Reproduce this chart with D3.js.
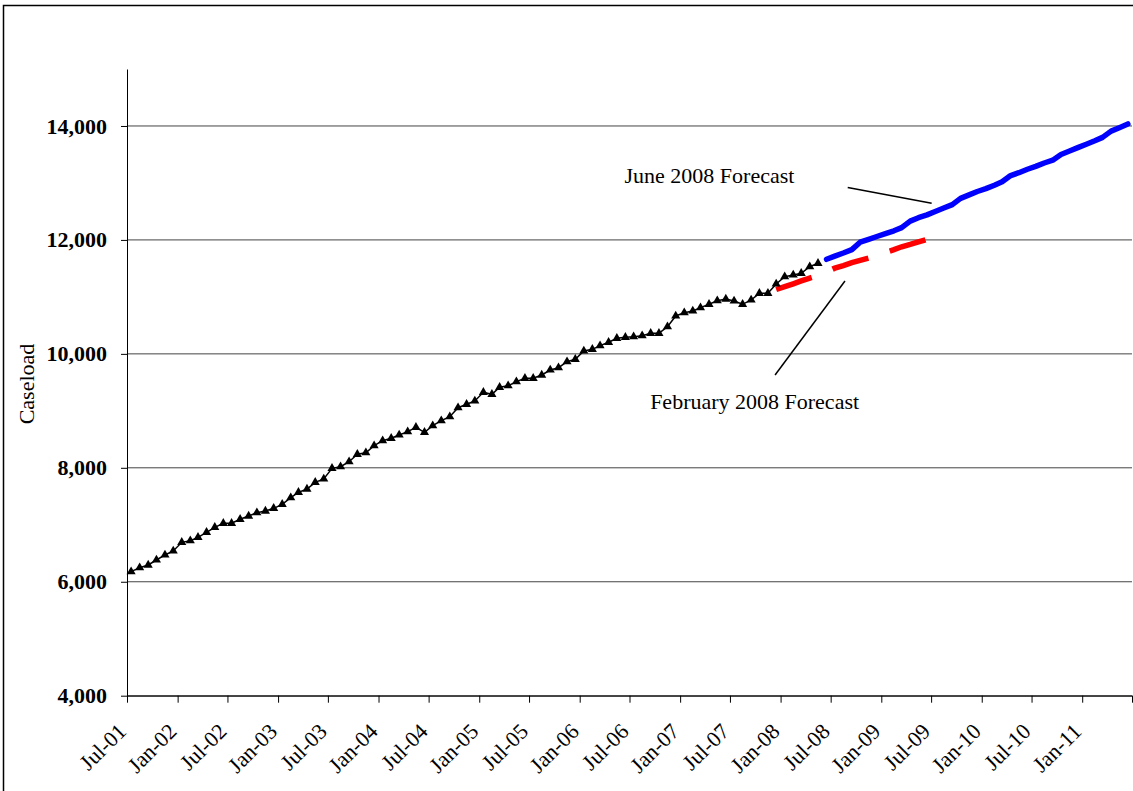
<!DOCTYPE html>
<html>
<head>
<meta charset="utf-8">
<script src="https://cdn.jsdelivr.net/npm/d3@7"></script>
<style>
  body { margin: 0; background: #fff; }
  text { font-family: "Liberation Serif", "Times New Roman", serif; fill: #000; }
</style>
</head>
<body>
<svg width="1133" height="791"></svg>
<script>
let width = 1133;
let height = 791;

// monthly caseload, actuals then the two forecasts
let actualStart = '2001-07';
let actualValues = [
  6177, 6247, 6294, 6382, 6470, 6540, 6692, 6721, 6780, 6868,
  6956, 7026, 7026, 7096, 7154, 7212, 7242, 7289, 7359, 7475,
  7570, 7628, 7745, 7804, 7991, 8020, 8107, 8237, 8265, 8388,
  8476, 8518, 8576, 8634, 8711, 8623, 8739, 8827, 8897, 9055,
  9115, 9173, 9325, 9290, 9413, 9441, 9512, 9571, 9571, 9629,
  9717, 9757, 9863, 9905, 10051, 10080, 10144, 10203, 10273, 10291,
  10302, 10319, 10361, 10361, 10477, 10665, 10723, 10753, 10811, 10870,
  10934, 10963, 10928, 10870, 10946, 11063, 11063, 11227, 11355, 11385,
  11414, 11530, 11590
];

let febStart = '2007-12';
let febValues = [
  11130, 11180, 11230, 11280, 11330, 11375, 11440, 11505, 11550, 11600,
  11640, 11680, 11730, 11780, 11830, 11880, 11920, 11965, 12010
];

let juneStart = '2008-06';
let juneValues = [
  11660, 11715, 11770, 11830, 11960, 12010, 12060, 12110, 12160, 12215,
  12330, 12390, 12440, 12500, 12560, 12620, 12730, 12790, 12850, 12900,
  12960, 13020, 13130, 13180, 13240, 13290, 13350, 13400, 13500, 13560,
  13620, 13680, 13740, 13800, 13910, 13970, 14035
];

let yTicks = [4000, 6000, 8000, 10000, 12000, 14000];
let xTickLabels = ['Jul-01', 'Jan-02', 'Jul-02', 'Jan-03', 'Jul-03', 'Jan-04', 'Jul-04',
  'Jan-05', 'Jul-05', 'Jan-06', 'Jul-06', 'Jan-07', 'Jul-07', 'Jan-08', 'Jul-08',
  'Jan-09', 'Jul-09', 'Jan-10', 'Jul-10', 'Jan-11'];

let parseMonth = d3.timeParse('%Y-%m');
let parseDay = d3.timeParse('%Y-%m-%d');
let parseTick = d3.timeParse('%b-%y');

// points sit in the middle of their month
function series(start, values) {
  let s = parseMonth(start);
  return values.map((v, i) => ({
    date: d3.timeDay.offset(d3.timeMonth.offset(s, i), 15),
    value: v
  }));
}

let actual = series(actualStart, actualValues);
let feb = series(febStart, febValues);
let june = series(juneStart, juneValues);

let x = d3.scaleTime()
  .domain([parseMonth('2001-07'), parseMonth('2011-07')])
  .range([127, 1132]);

let y = d3.scaleLinear()
  .domain([4000, 15000])
  .range([695.7, 69]);

let svg = d3.select('svg');

svg.append('rect')
  .attr('x', 3.5)
  .attr('y', 5.5)
  .attr('width', 1140)
  .attr('height', 800)
  .attr('fill', 'none')
  .attr('stroke', '#000')
  .attr('stroke-width', 1.5)
  ;

// gridlines
svg.append('g')
  .selectAll('line')
  .data(yTicks)
  .enter()
    .append('line')
    .attr('x1', x.range()[0])
    .attr('x2', x.range()[1])
    .attr('y1', d => y(d))
    .attr('y2', d => y(d))
    .attr('stroke', '#444')
    .attr('stroke-width', 1)
  ;

// y axis
let yAxis = svg.append('g')
  .attr('transform', `translate(${x.range()[0]},0)`)
  .call(d3.axisLeft(y)
    .tickValues(yTicks)
    .tickFormat(d3.format(','))
    .tickSize(6)
    .tickSizeOuter(0)
    .tickPadding(14))
  ;
yAxis.selectAll('text')
  .attr('font-size', 22)
  .attr('font-weight', 'bold')
  .attr('font-family', '"Liberation Serif", serif')
  ;
yAxis.selectAll('path, line').attr('stroke', '#000');

// x axis, last tick (Jul-11) has no label
let xTickDates = xTickLabels.map(parseTick).concat([parseMonth('2011-07')]);
let xAxis = svg.append('g')
  .attr('transform', `translate(0,${y.range()[0]})`)
  .call(d3.axisBottom(x)
    .tickValues(xTickDates)
    .tickFormat((d, i) => xTickLabels[i] || '')
    .tickSize(7)
    .tickSizeOuter(0))
  ;
xAxis.selectAll('text')
  .attr('font-size', 22)
  .attr('font-family', '"Liberation Serif", serif')
  .attr('text-anchor', 'end')
  .attr('x', 0)
  .attr('y', 0)
  .attr('dy', null)
  .attr('transform', 'translate(0,37) rotate(-45)')
  ;
xAxis.selectAll('path, line').attr('stroke', '#000');

let line = d3.line()
  .x(d => x(d.date))
  .y(d => y(d.value))
  ;

// February 2008 forecast
svg.append('path')
  .datum(feb)
  .attr('d', line)
  .attr('fill', 'none')
  .attr('stroke', '#ff0000')
  .attr('stroke-width', 5.5)
  .attr('stroke-dasharray', '37.5,22.5')
  ;

// June 2008 forecast
svg.append('path')
  .datum(june)
  .attr('d', line)
  .attr('fill', 'none')
  .attr('stroke', '#0000ff')
  .attr('stroke-width', 5.5)
  .attr('stroke-linejoin', 'round')
  .attr('stroke-linecap', 'round')
  ;

// actuals
svg.append('path')
  .datum(actual)
  .attr('d', line)
  .attr('fill', 'none')
  .attr('stroke', '#000')
  .attr('stroke-width', 1.5)
  ;

svg.append('g')
  .selectAll('path')
  .data(actual)
  .enter()
    .append('path')
    .attr('d', d3.symbol(d3.symbolTriangle, 36))
    .attr('transform', d => `translate(${x(d.date)},${y(d.value)})`)
    .attr('fill', '#000')
  ;

// callouts
let notes = [
  {text: 'June 2008 Forecast', at: ['2006-06-13', 12993], from: ['2008-09-01', 12921], to: ['2009-07-03', 12643]},
  {text: 'February 2008 Forecast', at: ['2006-09-14', 9032], from: ['2008-08-22', 11279], to: ['2007-12-12', 9629]}
];

svg.append('g')
  .selectAll('line')
  .data(notes)
  .enter()
    .append('line')
    .attr('x1', d => x(parseDay(d.from[0])))
    .attr('y1', d => y(d.from[1]))
    .attr('x2', d => x(parseDay(d.to[0])))
    .attr('y2', d => y(d.to[1]))
    .attr('stroke', '#000')
    .attr('stroke-width', 1.5)
  ;

svg.append('g')
  .selectAll('text')
  .data(notes)
  .enter()
    .append('text')
    .attr('x', d => x(parseDay(d.at[0])))
    .attr('y', d => y(d.at[1]))
    .attr('font-size', 22)
    .text(d => d.text)
  ;

svg.append('text')
  .attr('transform', 'translate(34,384) rotate(-90)')
  .attr('text-anchor', 'middle')
  .attr('font-size', 22)
  .text('Caseload')
  ;
</script>
</body>
</html>
